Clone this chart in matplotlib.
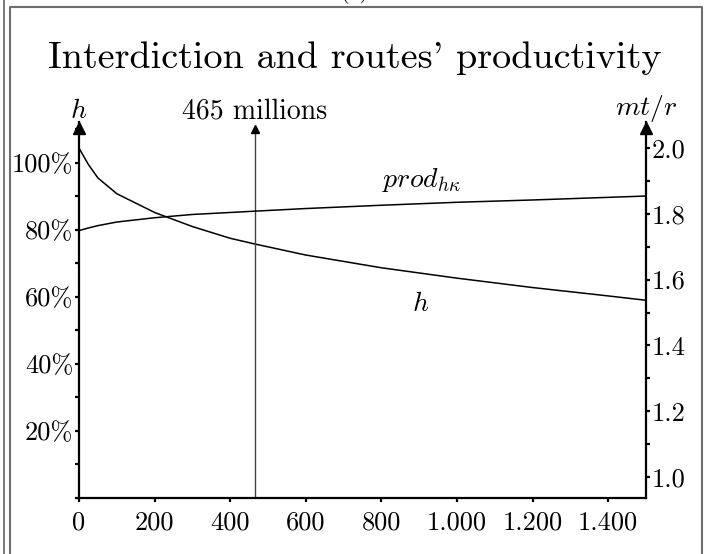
import matplotlib
matplotlib.use("Agg")
import matplotlib.pyplot as plt
from matplotlib.lines import Line2D
from matplotlib.ticker import MultipleLocator, FuncFormatter

plt.rcParams['font.family'] = ['cmr10', 'DejaVu Serif']
plt.rcParams['mathtext.fontset'] = 'cm'
plt.rcParams['axes.unicode_minus'] = False

# data
x_vals = [0, 25, 50, 100, 200, 300, 400, 465, 600, 800, 1000, 1200, 1400, 1500]
h_vals = [104.4, 99.5, 95.5, 90.8, 85.2, 81.0, 77.5, 75.8, 72.5, 68.7, 65.6, 62.8, 60.3, 59.0]
prod_vals = [1.749, 1.757, 1.764, 1.775, 1.788, 1.798, 1.804, 1.808, 1.816, 1.826, 1.835, 1.842, 1.850, 1.854]
interdiction = 465
x_ticks = [0, 200, 400, 600, 800, 1000, 1200, 1400]
h_ticks = [20, 40, 60, 80, 100]
r_ticks = [1.0, 1.2, 1.4, 1.6, 1.8, 2.0]

W, H = 710, 554
fig = plt.figure(figsize=(W / 100, H / 100), dpi=100)

# frame
frame_col = '#6e6e6e'
fig.add_artist(Line2D([4 / W, 4 / W], [0, 1], transform=fig.transFigure, color=frame_col, lw=1.3))
fig.add_artist(Line2D([10 / W, 10 / W, 702 / W, 702 / W], [0, 1 - 7 / H, 1 - 7 / H, 0],
                      transform=fig.transFigure, color=frame_col, lw=1.5))
fig.text(355 / W, 1 + 2 / H, '(a)', ha='center', va='baseline', fontsize=16)

left, right, top, bottom = 79, 646, 122, 498
ax = fig.add_axes([left / W, 1 - bottom / H, (right - left) / W, (bottom - top) / H])
ax.set_xlim(0, 1500)
ax.set_ylim(0, 112.2)
ax2 = ax.twinx()
ax2.set_ylim(1.0 - 21 / 329, 2.0 + 26 / 329)

for a in (ax, ax2):
    a.spines['top'].set_visible(False)
    for s in a.spines.values():
        s.set_linewidth(1.6)
ax.spines['right'].set_visible(False)
ax2.spines['left'].set_visible(False)
ax2.spines['bottom'].set_visible(False)

ax.plot(x_vals, h_vals, color='black', lw=1.1)
ax2.plot(x_vals, prod_vals, color='black', lw=1.1)
ax.plot([interdiction, interdiction], [0, 110.5], color='#444444', lw=1.0)
ax.plot([interdiction], [110.0], marker='^', color='black', markersize=6, clip_on=False)
ax.plot([0], [110.5], marker='^', color='black', markersize=8, clip_on=False)
ax.plot([1500], [110.5], marker='^', color='black', markersize=8, clip_on=False)

ax.set_xticks(x_ticks)
ax.xaxis.set_major_formatter(FuncFormatter(lambda v, p: f"{int(v):,}".replace(',', '.')))
ax.set_yticks(h_ticks)
ax.yaxis.set_minor_locator(MultipleLocator(10))
ax.yaxis.set_major_formatter(FuncFormatter(lambda v, p: f"{int(v)}%"))
ax2.set_yticks(r_ticks)
ax2.yaxis.set_minor_locator(MultipleLocator(0.1))
ax2.yaxis.set_major_formatter(FuncFormatter(lambda v, p: f"{v:.1f}"))

for a in (ax, ax2):
    a.tick_params(which='both', direction='out', length=3, width=1.6, labelsize=19, pad=1)
ax.tick_params(axis='x', pad=6)

ax.text(0, 111.5, r'$h$', ha='center', va='bottom', fontsize=20)
ax.text(1500, 111.5, r'$mt/r$', ha='center', va='bottom', fontsize=20)
ax.text(interdiction, 111.5, '465 millions', ha='center', va='bottom', fontsize=20)
ax.text(905, 95.0, r'$prod_{h\kappa}$', ha='center', va='center', fontsize=20)
ax.text(905, 58.0, r'$h$', ha='center', va='center', fontsize=20)

fig.text(355 / W, 1 - 58 / H, "Interdiction and routes' productivity", ha='center', va='center', fontsize=27.5)

fig.savefig('out.png', dpi=100)
